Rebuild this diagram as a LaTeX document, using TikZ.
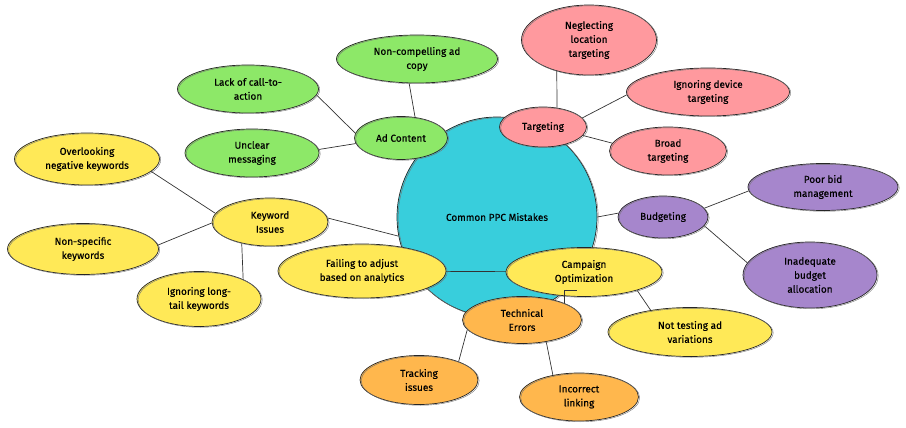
\documentclass[tikz,border=0pt]{standalone}
\usepackage{fontspec}
\setmainfont{Fira Sans}[FakeBold=0.3]
\usetikzlibrary{shapes.geometric,backgrounds}

\definecolor{rootcyan}{RGB}{56,206,220}
\definecolor{adgreen}{RGB}{141,232,104}
\definecolor{tgtpink}{RGB}{255,153,158}
\definecolor{budpurple}{RGB}{166,134,204}
\definecolor{kwyellow}{RGB}{255,233,87}
\definecolor{techorange}{RGB}{255,183,77}

\pgfdeclarelayer{bottom}
\pgfsetlayers{bottom,background,main}

\tikzset{
  idea/.style={ellipse, draw=black!85, line width=0.7pt, inner sep=0pt,
    align=center, font=\fontsize{10}{14}\selectfont,
    postaction={draw=black!55, line width=0.4pt,
      transform canvas={xshift=1.2pt,yshift=-0.8pt}}},
  link/.style={draw=black!80, line width=0.7pt},
}

\begin{document}
\begin{tikzpicture}[x=1pt,y=-1pt]
\useasboundingbox (0,0) rectangle (906,428);

% root, below the links
\begin{pgfonlayer}{bottom}
\node[idea, circle, fill=rootcyan, minimum size=200pt] (root) at (497,217) {Common PPC Mistakes};
\end{pgfonlayer}

% ad content
\node[idea, fill=adgreen, minimum width=93pt, minimum height=43pt] (ad) at (401,138) {Ad Content};
\node[idea, fill=adgreen, minimum width=161pt, minimum height=48pt] (adcopy) at (417,59) {Non-compelling ad\\copy};
\node[idea, fill=adgreen, minimum width=141pt, minimum height=48pt] (adcta) at (248,89) {Lack of call-to-\\action};
\node[idea, fill=adgreen, minimum width=134pt, minimum height=48pt] (admsg) at (252,153) {Unclear\\messaging};

% targeting
\node[idea, fill=tgtpink, minimum width=87pt, minimum height=40pt] (tgt) at (543,127) {Targeting};
\node[idea, fill=tgtpink, minimum width=135pt, minimum height=70pt] (tgtloc) at (589,40) {Neglecting\\location\\targeting};
\node[idea, fill=tgtpink, minimum width=163pt, minimum height=48pt] (tgtdev) at (708,92) {Ignoring device\\targeting};
\node[idea, fill=tgtpink, minimum width=117pt, minimum height=48pt] (tgtbroad) at (668,151) {Broad\\targeting};

% budgeting
\node[idea, fill=budpurple, minimum width=90pt, minimum height=42pt] (bud) at (663,217) {Budgeting};
\node[idea, fill=budpurple, minimum width=150pt, minimum height=47pt] (budbid) at (823,187) {Poor bid\\management};
\node[idea, fill=budpurple, minimum width=134pt, minimum height=66pt] (budalloc) at (810,275) {Inadequate\\budget\\allocation};

% keyword issues
\node[idea, fill=kwyellow, minimum width=116pt, minimum height=48pt] (kw) at (270,222) {Keyword\\Issues};
\node[idea, fill=kwyellow, minimum width=145pt, minimum height=52pt] (kwneg) at (87,159) {Overlooking\\negative keywords};
\node[idea, fill=kwyellow, minimum width=151pt, minimum height=51pt] (kwspec) at (83,249) {Non-specific\\keywords};
\node[idea, fill=kwyellow, minimum width=124pt, minimum height=55pt] (kwtail) at (199,299) {Ignoring long-\\tail keywords};

% campaign optimization
\node[idea, fill=kwyellow, minimum width=168pt, minimum height=54pt] (coadj) at (362,271) {Failing to adjust\\based on analytics};
\node[idea, fill=kwyellow, minimum width=156pt, minimum height=49pt] (co) at (584,272) {Campaign\\Optimization};
\node[idea, fill=kwyellow, minimum width=164pt, minimum height=49pt] (cotest) at (690,332) {Not testing ad\\variations};

% technical errors
\node[idea, fill=techorange, minimum width=119pt, minimum height=47pt] (tech) at (522,320) {Technical\\Errors};
\node[idea, fill=techorange, minimum width=118pt, minimum height=49pt] (techtrack) at (419,380) {Tracking\\issues};
\node[idea, fill=techorange, minimum width=119pt, minimum height=48pt] (techlink) at (579,397) {Incorrect\\linking};

% links behind the ideas
\begin{scope}[on background layer]
\draw[link] (ad.56) -- (adcopy.252);
\draw[link] (ad.174) -- (adcta.355);
\draw[link] (ad.187) -- (admsg.3);
\draw[link] (tgt.54) -- (tgtloc.224);
\draw[link] (tgt.13) -- (tgtdev.182);
\draw[link] (tgt.348) -- (tgtbroad.172);
\draw[link] (root.0.5) -- (bud.175);
\draw[link] (bud.12) -- (budbid.183);
\draw[link] (bud.348) -- (budalloc.169);
\draw[link] (kw.4) -- (root.191);
\draw[link] (kw.171) -- (kwneg.349);
\draw[link] (kw.181) -- (kwspec.3);
\draw[link] (kw.217) -- (kwtail.24);
\draw[link] (co.center) -- (coadj.center);
\draw[link] (co.341) -- (cotest.151);
\draw[link] (tech.190) -- (techtrack.25);
\draw[link] (tech.318) -- (techlink.140);
\end{scope}
\draw[link] (tech.22) |- ([yshift=6pt]co.255);
\end{tikzpicture}
\end{document}
